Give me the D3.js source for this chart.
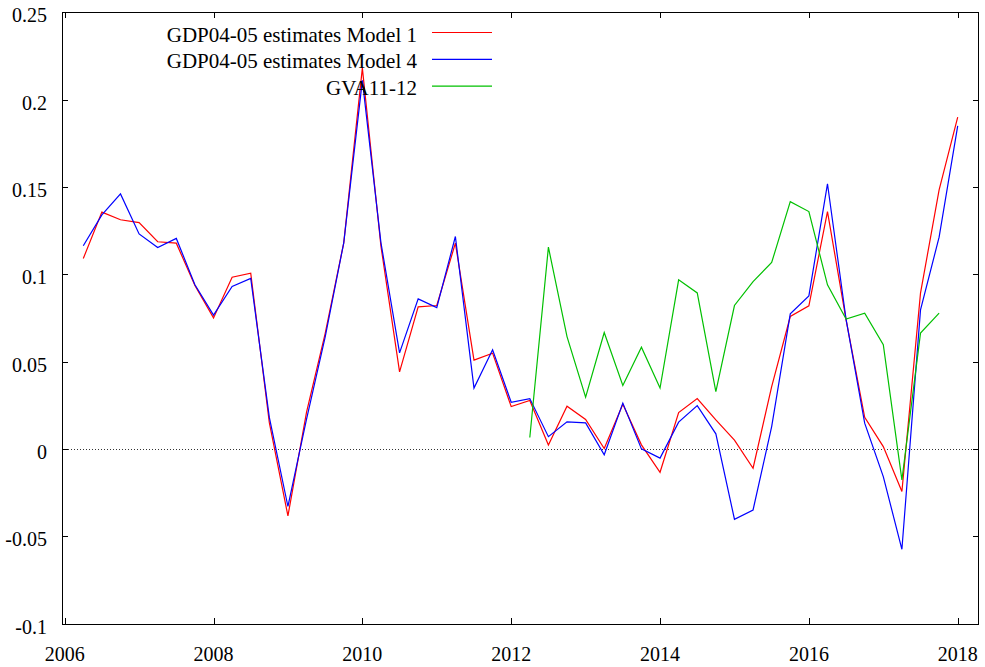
<!DOCTYPE html>
<meta charset="utf-8">
<style>
body { margin: 0; background: #fff; }
svg text { font-family: "Liberation Serif", "Times New Roman", serif; fill: #000; }
.frame { fill: none; stroke: #000; stroke-width: 1; shape-rendering: crispEdges; }
.tick { stroke: #000; stroke-width: 1; shape-rendering: crispEdges; }
.series { fill: none; stroke-width: 1.2; }
</style>
<svg id="chart" width="985" height="667"></svg>
<script src="https://cdnjs.cloudflare.com/ajax/libs/d3/7.8.5/d3.min.js"></script>
<script>

// quarterly dates (decimal years)
var quarters = [2006.25, 2006.5, 2006.75, 2007, 2007.25, 2007.5, 2007.75, 2008,
  2008.25, 2008.5, 2008.75, 2009, 2009.25, 2009.5, 2009.75, 2010,
  2010.25, 2010.5, 2010.75, 2011, 2011.25, 2011.5, 2011.75, 2012,
  2012.25, 2012.5, 2012.75, 2013, 2013.25, 2013.5, 2013.75, 2014,
  2014.25, 2014.5, 2014.75, 2015, 2015.25, 2015.5, 2015.75, 2016,
  2016.25, 2016.5, 2016.75, 2017, 2017.25, 2017.5, 2017.75, 2018];

var model1 = [0.109, 0.1356, 0.1312, 0.1296, 0.1186, 0.1178, 0.0935, 0.075, 0.0983, 0.1006,
  0.015, -0.0384, 0.021, 0.066, 0.118, 0.218, 0.116, 0.0441, 0.0813, 0.0821,
  0.1178, 0.0508, 0.0548, 0.0242, 0.0277, 0.0022, 0.0244, 0.0168, 0.0002, 0.0256,
  0.0023, -0.0134, 0.0208, 0.0288, 0.0166, 0.005, -0.0111, 0.0357, 0.0758, 0.0819,
  0.1359, 0.0739, 0.0181, 0.0013, -0.0244, 0.0892, 0.1483, 0.190];

var model4 = [0.1163, 0.134, 0.146, 0.1231, 0.1153, 0.1205, 0.094, 0.0766, 0.093, 0.0976,
  0.018, -0.033, 0.017, 0.064, 0.118, 0.211, 0.118, 0.055, 0.0859, 0.0809,
  0.1216, 0.0348, 0.0567, 0.0267, 0.0288, 0.007, 0.0155, 0.0149, -0.0034, 0.0262,
  0.0, -0.0053, 0.0153, 0.0248, 0.0086, -0.0403, -0.035, 0.0128, 0.0773, 0.0876,
  0.1518, 0.0741, 0.0147, -0.0159, -0.0575, 0.0796, 0.1212, 0.185];

// GVA series starts 2012 Q2, ends 2017 Q4
var gvaQuarters = quarters.slice(24, 47);
var gva = [0.0065, 0.1155, 0.0643, 0.0296, 0.0666, 0.0363, 0.0582, 0.0348, 0.0968, 0.0893,
  0.0328, 0.0821, 0.0958, 0.1067, 0.1416, 0.1359, 0.0939, 0.0743, 0.0777, 0.0596,
  -0.0178, 0.0663, 0.0777];

var xTicks = [2006, 2008, 2010, 2012, 2014, 2016, 2018];
var yTicks = [-0.1, -0.05, 0, 0.05, 0.1, 0.15, 0.2, 0.25];
var yLabels = ["-0.1", "-0.05", "0", "0.05", "0.1", "0.15", "0.2", "0.25"];

var seriesNames = ["GDP04-05 estimates Model 1", "GDP04-05 estimates Model 4", "GVA11-12"];
var seriesColors = ["#ff0000", "#0000ff", "#00c000"];

var svg = d3.select("#chart"),
    pLeft = 62, pRight = 979, pTop = 12.3, pBottom = 623.5;

var x = d3.scaleLinear().domain([2005.964, 2018.286]).range([pLeft, pRight]);
var y = d3.scaleLinear().domain([-0.1, 0.25]).range([pBottom, pTop]);

// zero line, dotted
svg.append("line")
    .attr("x1", pLeft).attr("x2", pRight)
    .attr("y1", Math.round(y(0)) + 0.5).attr("y2", Math.round(y(0)) + 0.5)
    .attr("stroke", "#333")
    .attr("stroke-width", 1)
    .attr("stroke-dasharray", "1,2");

// ticks (mirrored on both sides)
var tl = 6;
yTicks.forEach(function(v, i) {
  var yy = Math.round(y(v)) + 0.5;
  svg.append("line").attr("class", "tick").attr("x1", pLeft).attr("x2", pLeft + tl).attr("y1", yy).attr("y2", yy);
  svg.append("line").attr("class", "tick").attr("x1", pRight - tl).attr("x2", pRight).attr("y1", yy).attr("y2", yy);
  svg.append("text")
      .attr("x", 47)
      .attr("y", y(v) + 3)
      .attr("text-anchor", "end")
      .attr("dominant-baseline", "central")
      .style("font-size", "20px")
      .text(yLabels[i]);
});

xTicks.forEach(function(t) {
  var xx = Math.round(x(t)) + 0.5;
  svg.append("line").attr("class", "tick").attr("x1", xx).attr("x2", xx).attr("y1", pBottom).attr("y2", pBottom - tl);
  svg.append("line").attr("class", "tick").attr("x1", xx).attr("x2", xx).attr("y1", pTop).attr("y2", pTop + tl);
  svg.append("text")
      .attr("x", x(t))
      .attr("y", 661)
      .attr("text-anchor", "middle")
      .style("font-size", "20px")
      .text(t);
});

var line = d3.line()
    .x(function(d) { return x(d[0]); })
    .y(function(d) { return y(d[1]); });

var data = [d3.zip(quarters, model1), d3.zip(quarters, model4), d3.zip(gvaQuarters, gva)];

svg.selectAll(".series")
    .data(data)
  .enter().append("path")
    .attr("class", "series")
    .attr("stroke", function(d, i) { return seriesColors[i]; })
    .attr("d", line);

// legend
seriesNames.forEach(function(name, i) {
  var ly = 32.5 + i * 26.8;
  svg.append("text")
      .attr("x", 417)
      .attr("y", ly + 9)
      .attr("text-anchor", "end")
      .style("font-size", "21px")
      .text(name);
  svg.append("line")
      .attr("x1", 432).attr("x2", 492)
      .attr("y1", ly).attr("y2", ly)
      .attr("stroke", seriesColors[i])
      .attr("stroke-width", 1.2);
});

svg.append("rect")
    .attr("class", "frame")
    .attr("x", pLeft + 0.5).attr("y", Math.round(pTop) + 0.5)
    .attr("width", pRight - pLeft - 1).attr("height", Math.round(pBottom) - Math.round(pTop));

</script>
